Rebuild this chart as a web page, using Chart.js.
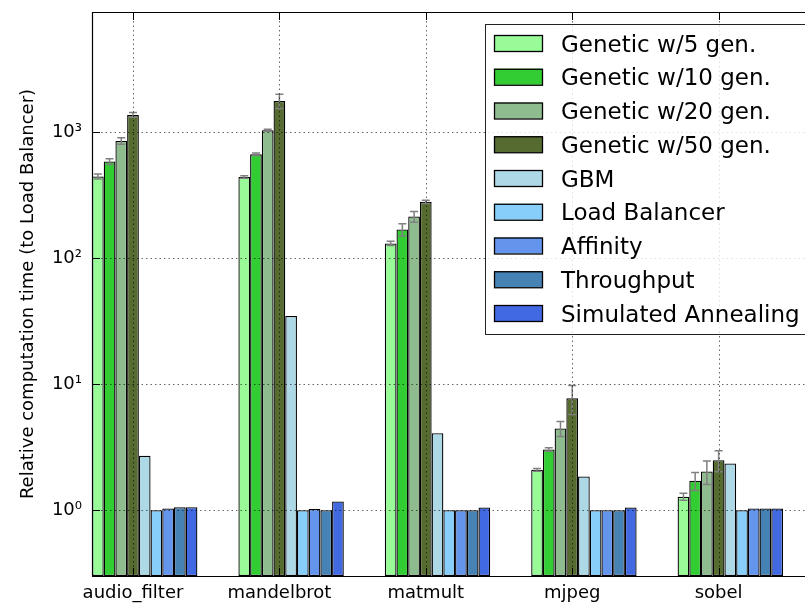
<!DOCTYPE html>
<html>
<head>
<meta charset="utf-8">
<script src="https://cdn.jsdelivr.net/npm/chart.js@4.4.0/dist/chart.umd.min.js"></script>
<style>
    html, body { margin: 0; padding: 0; background: #fff; overflow: hidden; }
    canvas { display: block; }
</style>
</head>
<body>
<canvas id="time_chart_id" width="830" height="604"></canvas>
<script>
// benchmarks on the x axis
const benchmarks = ["audio_filter", "mandelbrot", "matmult", "mjpeg", "sobel"];

const seriesNames = [
    "Genetic w/5 gen.", "Genetic w/10 gen.", "Genetic w/20 gen.", "Genetic w/50 gen.",
    "GBM", "Load Balancer", "Affinity", "Throughput", "Simulated Annealing"
];
const seriesColors = [
    "#98fb98", "#32cd32", "#8fbc8f", "#556b2f",
    "#add8e6", "#87cefa", "#6495ed", "#4682b4", "#4169e1"
];

// relative computation time (Load Balancer = 1)
const genetic5 = [445, 442, 131, 2.09, 1.28];
const genetic10 = [585, 669, 169, 3.03, 1.71];
const genetic20 = [853, 1037, 214, 4.45, 2.03];
const genetic50 = [1372, 1771, 280, 7.74, 2.49];
const gbm = [2.70, 34.8, 4.08, 1.85, 2.35];
const loadBalancer = [1.0, 1.0, 1.0, 1.0, 1.0];
const affinity = [1.03, 1.02, 1.0, 1.0, 1.03];
const throughput = [1.055, 1.0, 1.0, 1.0, 1.03];
const annealing = [1.055, 1.17, 1.05, 1.05, 1.03];

// error bars, only the genetic runs have them
const genetic5Err = [20, 10, 5, 0.05, 0.08];
const genetic10Err = [30, 15, 19, 0.1, 0.28];
const genetic20Err = [50, 20, 21, 0.6, 0.43];
const genetic50Err = [60, 230, 8, 2.0, 0.47];

// y ticks
const yTickValues = [1, 10, 100, 1000];
const yTickLabels = ["10\u2070", "10\u00b9", "10\u00b2", "10\u00b3"];

const seriesValues = [genetic5, genetic10, genetic20, genetic50, gbm, loadBalancer, affinity, throughput, annealing];
const seriesErrors = [genetic5Err, genetic10Err, genetic20Err, genetic50Err, null, null, null, null, null];

const barWidth = 0.08;                 // in x units, like the original bar width
const groupCenter = barWidth * 9 / 2;  // bars start at the integer position
const tickOffset = barWidth * 3.5;

Chart.defaults.font.family = "'DejaVu Sans', sans-serif";
Chart.defaults.color = "#000";

const datasets = seriesNames.map((name, k) => ({
    label: name,
    data: seriesValues[k].map((v, i) => ({ x: i + groupCenter, y: v })),
    errors: seriesErrors[k],
    backgroundColor: seriesColors[k],
    borderColor: "#000",
    borderWidth: 1.3,
    borderSkipped: false,
    categoryPercentage: barWidth * 9,
    barPercentage: 1.0
}));

// grid above the bars, error bars, spines and inward ticks
const axesOverlay = {
    id: 'axesOverlay',
    afterDatasetsDraw(chart) {
        const { ctx, chartArea: a, scales: { x, y } } = chart;
        ctx.save();

        // error bars
        ctx.strokeStyle = "#808080";
        ctx.lineWidth = 1.5;
        chart.data.datasets.forEach((ds, k) => {
            if (!ds.errors) return;
            const meta = chart.getDatasetMeta(k);
            meta.data.forEach((bar, i) => {
                const v = ds.data[i].y, e = ds.errors[i];
                const top = y.getPixelForValue(v + e);
                const bot = y.getPixelForValue(Math.max(v - e, y.min));
                ctx.beginPath();
                ctx.moveTo(bar.x, top); ctx.lineTo(bar.x, bot);
                ctx.moveTo(bar.x - 4, top); ctx.lineTo(bar.x + 4, top);
                ctx.moveTo(bar.x - 4, bot); ctx.lineTo(bar.x + 4, bot);
                ctx.stroke();
            });
        });

        // dotted grid
        ctx.strokeStyle = "rgba(0,0,0,0.6)";
        ctx.lineWidth = 1;
        ctx.setLineDash([1.5, 3]);
        ctx.beginPath();
        x.ticks.forEach(t => {
            const px = Math.round(x.getPixelForValue(t.value)) + 0.5;
            ctx.moveTo(px, a.top); ctx.lineTo(px, a.bottom);
        });
        yTickValues.forEach(v => {
            const py = Math.round(y.getPixelForValue(v)) + 0.5;
            ctx.moveTo(a.left, py); ctx.lineTo(a.right, py);
        });
        ctx.stroke();
        ctx.setLineDash([]);

        // inward tick marks
        ctx.strokeStyle = "#000";
        ctx.beginPath();
        y.ticks.forEach(t => {
            const py = Math.round(y.getPixelForValue(t.value)) + 0.5;
            const len = yTickValues.some(v => Math.abs(v - t.value) < 1e-6 * v) ? 8 : 4;
            ctx.moveTo(a.left, py); ctx.lineTo(a.left + len, py);
        });
        x.ticks.forEach(t => {
            const px = Math.round(x.getPixelForValue(t.value)) + 0.5;
            ctx.moveTo(px, a.top); ctx.lineTo(px, a.top + 8);
            ctx.moveTo(px, a.bottom); ctx.lineTo(px, a.bottom - 8);
        });
        ctx.stroke();

        // spines
        ctx.lineWidth = 1.2;
        ctx.beginPath();
        ctx.moveTo(a.left + 0.5, a.top + 0.5); ctx.lineTo(a.left + 0.5, a.bottom + 0.5);
        ctx.moveTo(a.left, a.top + 0.5); ctx.lineTo(a.right, a.top + 0.5);
        ctx.moveTo(a.left, a.bottom + 0.5); ctx.lineTo(a.right, a.bottom + 0.5);
        ctx.stroke();
        ctx.restore();
    }
};

// legend box in the upper right corner of the axes
const legendBox = {
    id: 'legendBox',
    afterDraw(chart) {
        const { ctx, chartArea: a } = chart;
        const left = a.left + 393, top = a.top + 12;
        const rowH = 33.75;
        ctx.save();
        ctx.fillStyle = "rgba(255,255,255,0.8)";
        ctx.fillRect(left, top, a.right - 15 - left, 310);
        ctx.strokeStyle = "#222";
        ctx.lineWidth = 1;
        ctx.strokeRect(left + 0.5, top + 0.5, a.right - 15 - left, 310);
        ctx.font = "23px 'DejaVu Sans'";
        ctx.textBaseline = "alphabetic";
        chart.data.datasets.forEach((ds, k) => {
            const cy = top + 19 + k * rowH;
            ctx.fillStyle = ds.backgroundColor;
            ctx.fillRect(left + 9, cy - 8, 48, 16);
            ctx.strokeStyle = "#000";
            ctx.lineWidth = 1.3;
            ctx.strokeRect(left + 9.5, cy - 7.5, 48, 16);
            ctx.fillStyle = "#000";
            ctx.fillText(ds.label, left + 76, cy + 8.5);
        });
        ctx.restore();
    }
};

new Chart(
    document.getElementById('time_chart_id'),
    {
        type: 'bar',
        data: { datasets: datasets },
        plugins: [axesOverlay, legendBox],
        options: {
            responsive: false,
            animation: false,
            layout: { padding: { top: 12, left: 0, right: 0, bottom: 0 } },
            plugins: {
                legend: { display: false },
                tooltip: { enabled: false }
            },
            scales: {
                x: {
                    type: 'linear',
                    offset: false,
                    min: 0,
                    max: 5.041,
                    afterBuildTicks: s => { s.ticks = benchmarks.map((b, i) => ({ value: i + tickOffset })); },
                    afterFit: s => { s.height = 28; },
                    grid: { display: false, drawTicks: false, offset: false },
                    border: { display: false },
                    ticks: {
                        autoSkip: false,
                        maxRotation: 0,
                        padding: 7,
                        font: { size: 18 },
                        callback: (v, i) => benchmarks[i]
                    }
                },
                y: {
                    type: 'logarithmic',
                    min: 0.3,
                    max: 9000,
                    afterFit: s => { s.width = 92; s.paddingTop = 0; s.paddingBottom = 0; },
                    grid: { display: false, drawTicks: false },
                    border: { display: false },
                    ticks: {
                        autoSkip: false,
                        padding: 10,
                        font: { size: 18 },
                        callback: v => {
                            const i = yTickValues.findIndex(t => Math.abs(t - v) < 1e-6 * t);
                            return i < 0 ? null : yTickLabels[i];
                        }
                    },
                    title: {
                        display: true,
                        text: 'Relative computation time (to Load Balancer)',
                        font: { size: 18 },
                        padding: { top: 18, bottom: 0 }
                    }
                }
            }
        }
    }
);
</script>
</body>
</html>
